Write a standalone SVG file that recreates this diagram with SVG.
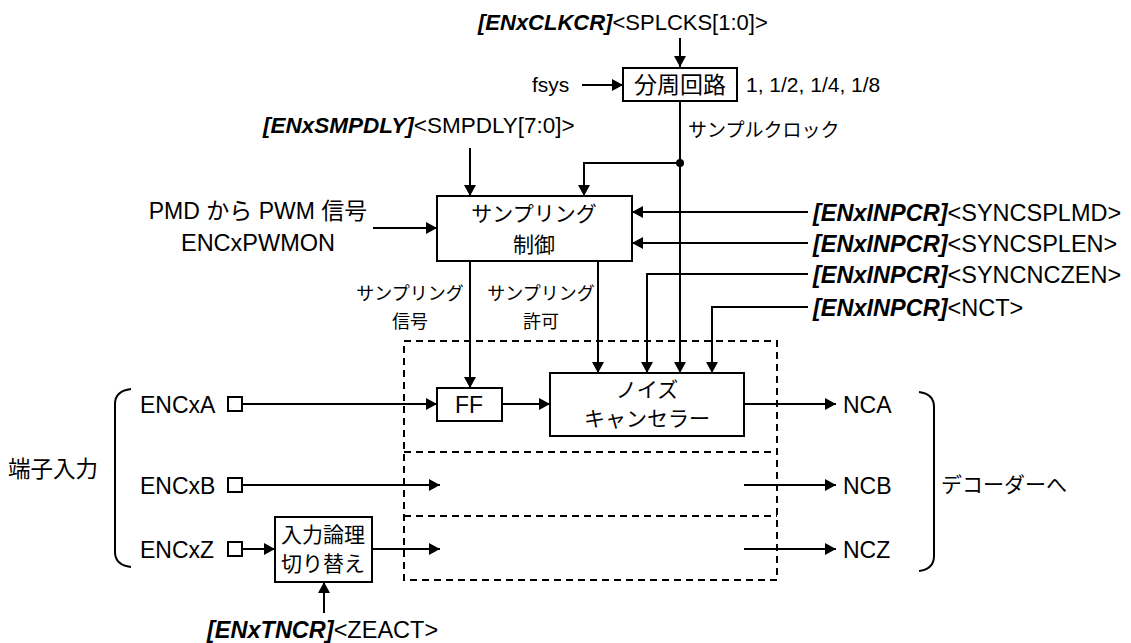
<svg xmlns="http://www.w3.org/2000/svg" width="1131" height="643" viewBox="0 0 1131 643">
<style>
text{font-family:"Liberation Sans",Arial,"Noto Sans CJK JP",sans-serif;font-size:21px;fill:#000}
.L{font-size:23px}
.s{font-size:18px}
.m{text-anchor:middle}
.b{font-weight:bold;font-style:italic}
.box{fill:#fff;stroke:#000;stroke-width:2}
.pin{fill:#fff;stroke:#000;stroke-width:2}
.w{fill:none;stroke:#000;stroke-width:2}
.a{fill:none;stroke:#000;stroke-width:2;marker-end:url(#ah)}
.d{fill:none;stroke:#000;stroke-width:2;stroke-dasharray:7 5}
</style>
<defs>
<marker id="ah" markerUnits="userSpaceOnUse" markerWidth="12" markerHeight="12" refX="11" refY="6" orient="auto">
<path d="M0,0 L11,6 L0,12 z" fill="#000"/>
</marker>
</defs>
<rect width="1131" height="643" fill="#fff"/>

<g id="connectors">
<path class="d" d="M404,341 H777 V580 H404 Z"/>
<path class="d" d="M404,452 H777"/>
<path class="d" d="M404,516 H777"/>
<path class="a" d="M680,38 V67"/>
<path class="a" d="M582,85 H623"/>
<path class="a" d="M680,101 V373"/>
<circle cx="680" cy="163" r="4" fill="#000"/>
<path class="a" d="M680,163 H584 V196"/>
<path class="a" d="M470,148 V196"/>
<path class="a" d="M373,228 H437"/>
<path class="a" d="M808,212 H632"/>
<path class="a" d="M808,243 H632"/>
<path class="a" d="M808,274 H647 V373"/>
<path class="a" d="M808,307 H712 V373"/>
<path class="a" d="M470,261 V388"/>
<path class="a" d="M598,261 V373"/>
<path class="a" d="M242,404 H437"/>
<path class="a" d="M502,404 H550"/>
<path class="a" d="M744,404 H836"/>
<path class="a" d="M242,485 H440"/>
<path class="a" d="M744,485 H836"/>
<path class="a" d="M242,549 H275"/>
<path class="a" d="M372,549 H440"/>
<path class="a" d="M744,549 H836"/>
<path class="a" d="M324,613 V582"/>
<path class="w" d="M131,389 Q115,391 115,404 V552 Q115,565 131,567"/>
<path class="w" d="M919,392 Q934,394 934,407 V556 Q934,569 919,571"/>
</g>

<g id="top-label"><text x="478" y="30" style="font-size:22px"><tspan class="b">[ENxCLKCR]</tspan>&lt;SPLCKS[1:0]&gt;</text></g>
<g id="fsys"><text x="532" y="92">fsys</text></g>
<g id="divider"><rect class="box" x="623" y="68" width="114" height="33"/><text class="m" x="680" y="93" style="font-size:23px">分周回路</text></g>
<g id="ratio"><text x="746" y="92">1, 1/2, 1/4, 1/8</text></g>
<g id="clk-label"><text x="688" y="137" style="font-size:19px">サンプルクロック</text></g>
<g id="smpdly"><text x="263" y="133" style="font-size:22.5px"><tspan class="b">[ENxSMPDLY]</tspan>&lt;SMPDLY[7:0]&gt;</text></g>
<g id="pmd"><text class="m L" x="258" y="219">PMD から PWM 信号</text><text class="m" x="258" y="251" style="font-size:23.5px">ENCxPWMON</text></g>
<g id="sampling"><rect class="box" x="437" y="196" width="195" height="65"/><text class="m" x="534" y="221">サンプリング</text><text class="m" x="534" y="252">制御</text></g>
<g id="reg1"><text x="813" y="221" style="font-size:23.5px"><tspan class="b">[ENxINPCR]</tspan>&lt;SYNCSPLMD&gt;</text></g>
<g id="reg2"><text x="813" y="252" style="font-size:23.5px"><tspan class="b">[ENxINPCR]</tspan>&lt;SYNCSPLEN&gt;</text></g>
<g id="reg3"><text x="813" y="283" style="font-size:23.5px"><tspan class="b">[ENxINPCR]</tspan>&lt;SYNCNCZEN&gt;</text></g>
<g id="reg4"><text x="813" y="316" style="font-size:23.5px"><tspan class="b">[ENxINPCR]</tspan>&lt;NCT&gt;</text></g>
<g id="sig-label"><text class="m s" x="410" y="300">サンプリング</text><text class="m s" x="410" y="328">信号</text></g>
<g id="en-label"><text class="m s" x="541" y="300">サンプリング</text><text class="m s" x="541" y="328">許可</text></g>
<g id="ff"><rect class="box" x="437" y="388" width="65" height="33"/><text class="m L" x="469" y="413">FF</text></g>
<g id="nc"><rect class="box" x="550" y="373" width="194" height="63"/><text class="m" x="647" y="397">ノイズ</text><text class="m" x="647" y="426">キャンセラー</text></g>
<g id="encxa"><text class="L" x="140" y="413">ENCxA</text><rect class="pin" x="228" y="397" width="14" height="14"/></g>
<g id="encxb"><text class="L" x="140" y="494">ENCxB</text><rect class="pin" x="228" y="478" width="14" height="14"/></g>
<g id="encxz"><text class="L" x="140" y="558">ENCxZ</text><rect class="pin" x="228" y="542" width="14" height="14"/></g>
<g id="logic"><rect class="box" x="275" y="517" width="97" height="65"/><text class="m" x="323" y="542">入力論理</text><text class="m" x="323" y="571">切り替え</text></g>
<g id="zeact"><text x="207" y="638" style="font-size:23.5px"><tspan class="b">[ENxTNCR]</tspan>&lt;ZEACT&gt;</text></g>
<g id="pins"><text x="8" y="477" style="font-size:22.5px">端子入力</text></g>
<g id="nca"><text class="L" x="843" y="413">NCA</text></g>
<g id="ncb"><text class="L" x="843" y="494">NCB</text></g>
<g id="ncz"><text class="L" x="843" y="558">NCZ</text></g>
<g id="dec"><text x="941" y="492">デコーダーへ</text></g>
</svg>
